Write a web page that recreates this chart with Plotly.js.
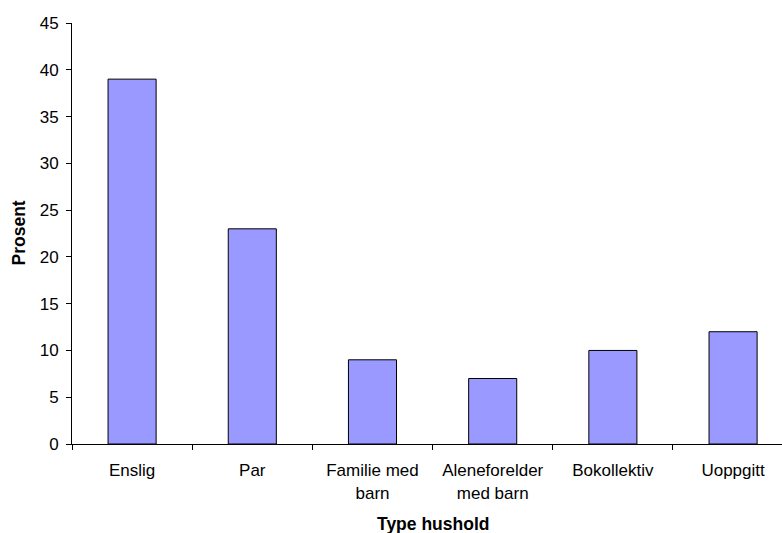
<!DOCTYPE html>
<html><head><meta charset="utf-8">
<script src="https://cdn.plot.ly/plotly-3.0.1.min.js"></script>
<style>html,body{margin:0;padding:0;background:#fff;}#chart{width:782px;height:533px;}</style>
</head><body><div id="chart"></div>
<script>
const categories = ["Enslig", "Par", "Familie med<br>barn", "Aleneforelder<br>med barn", "Bokollektiv", "Uoppgitt"];
const values = [39, 23, 9, 7, 10, 12];
const yTicks = [0, 5, 10, 15, 20, 25, 30, 35, 40, 45];
const yTitle = "Prosent";
const xTitle = "Type hushold";

const fam = "Liberation Sans, Arial, sans-serif";
const font = {family: fam, size: 17, color: "#000"};
const titleFont = {family: fam, size: 17.5, color: "#000"};
const data = [{
  type: "bar",
  x: categories,
  y: values,
  width: 0.4,
  marker: {color: "#9999FF", line: {color: "#000", width: 1}},
  hoverinfo: "none"
}];
const layout = {
  width: 782, height: 533,
  margin: {l: 72, r: 0, t: 23, b: 89, pad: 0},
  paper_bgcolor: "#fff", plot_bgcolor: "#fff",
  font: font,
  showlegend: false,
  xaxis: {
    type: "category",
    range: [-0.5, 5.407],
    showline: true, linecolor: "#000", linewidth: 1,
    ticks: "outside", tickson: "boundaries", ticklen: 5, tickcolor: "#000", tickwidth: 1,
    showgrid: false, zeroline: false,
    tickfont: font, ticklabelstandoff: 11, fixedrange: true
  },
  yaxis: {
    range: [0, 45],
    tickvals: yTicks,
    showline: true, linecolor: "#000", linewidth: 1,
    ticks: "outside", ticklen: 5, tickcolor: "#000", tickwidth: 1,
    showgrid: false, zeroline: false,
    tickfont: font, ticklabelstandoff: 4,
    fixedrange: true
  },
  annotations: [{
    text: "<b>" + xTitle + "</b>", xref: "x", yref: "paper", x: 2.5, y: 0,
    yshift: -80, showarrow: false, xanchor: "center", yanchor: "middle",
    font: titleFont
  }, {
    text: "<b>" + yTitle + "</b>", xref: "paper", yref: "paper", x: 0, y: 0.5,
    xshift: -54, showarrow: false, xanchor: "center", yanchor: "middle", textangle: -90,
    font: titleFont
  }]
};
Plotly.newPlot("chart", data, layout, {displayModeBar: false, staticPlot: true});
</script></body></html>
